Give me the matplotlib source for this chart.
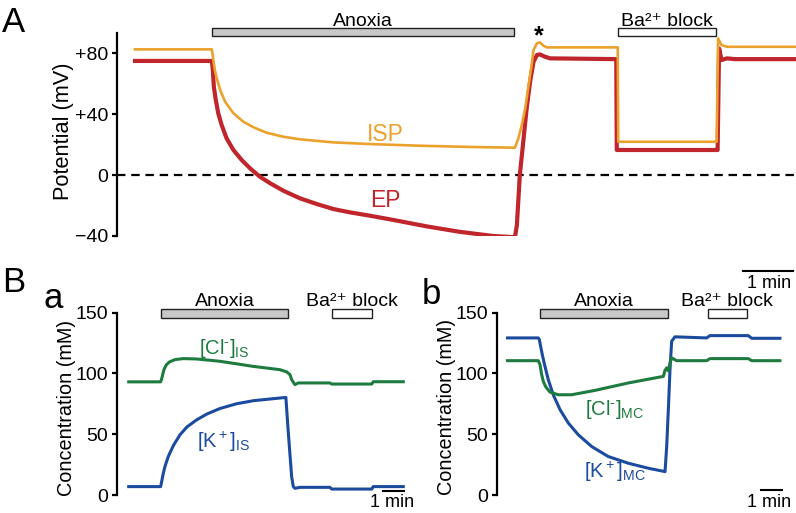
import matplotlib
matplotlib.use('Agg')
import matplotlib.pyplot as plt
from matplotlib.patches import Rectangle

plt.rcParams['font.family'] = ['Liberation Sans', 'DejaVu Sans']
plt.rcParams['mathtext.fontset'] = 'custom'
plt.rcParams['mathtext.rm'] = 'Liberation Sans'
plt.rcParams['mathtext.it'] = 'Liberation Sans:italic'
plt.rcParams['mathtext.bf'] = 'Liberation Sans:bold'

# ---------------- data (time in min) ----------------
# Panel A: potentials (mV)
isp_t = [0.00, 1.57, 1.60, 1.63, 1.67, 1.74, 1.84, 2.01, 2.21, 2.42, 2.69, 3.03, 3.37, 4.05, 4.80,
         5.82, 6.84, 7.76, 7.83, 7.90, 7.97, 8.03, 8.10, 8.14, 8.21, 8.27, 8.34, 8.41, 9.86, 9.87,
         11.88, 11.91, 11.98, 12.09, 13.50]
isp_v = [82.4, 82.4, 75.4, 68.9, 63.4, 55.7, 48.1, 40.5, 35.0, 31.3, 27.7, 25.1, 23.4, 21.4, 20.3,
         19.2, 18.4, 17.9, 24.0, 32.8, 43.7, 56.9, 72.1, 82.0, 86.4, 87.0, 84.8, 83.7, 83.7, 21.8,
         21.8, 89.6, 85.2, 84.1, 84.1]

ep_t = [0.00, 1.57, 1.59, 1.61, 1.65, 1.70, 1.77, 1.87, 2.01, 2.18, 2.35, 2.55, 2.76, 3.03, 3.37,
        3.71, 4.05, 4.39, 4.80, 5.28, 5.96, 6.64, 7.32, 7.76, 7.80, 7.86, 7.93, 8.00, 8.07, 8.14,
        8.21, 8.27, 8.37, 8.48, 9.83, 9.84, 11.90, 11.93, 11.98, 12.09, 12.25, 13.50]
ep_v = [74.8, 74.8, 68.9, 57.9, 49.2, 40.5, 32.8, 24.1, 16.4, 9.8, 4.4, -1.1, -5.4, -10.3, -15.3,
        -19.0, -22.3, -24.5, -26.7, -29.5, -33.7, -37.3, -40.0, -40.8, -32.8, 0.0, 21.8, 43.7, 61.2, 74.3,
        78.7, 79.1, 77.6, 76.5, 76.0, 16.4, 16.4, 83.0, 75.4, 76.5, 76.0, 76.0]

# Panel Ba: intrastrial space concentrations (mM)
cl_is_t = [0.00, 1.55, 1.60, 1.65, 1.71, 1.81, 1.97, 2.25, 2.65, 3.30, 4.43, 6.05, 7.34, 7.67, 7.83,
           7.91, 8.07, 8.23, 9.77, 9.85, 11.80, 11.87, 13.33]
cl_is_v = [93.0, 93.0, 95.4, 98.9, 103.0, 106.6, 109.3, 111.3, 112.1, 111.8, 109.9, 105.7, 103.0, 101.2, 98.9,
           94.8, 90.7, 92.1, 92.1, 91.2, 91.2, 93.1, 93.1]
k_is_t = [0.00, 1.55, 1.60, 1.68, 1.76, 1.92, 2.17, 2.49, 2.82, 3.30, 3.79, 4.43, 5.24, 6.05, 6.86,
          7.63, 7.75, 7.91, 7.99, 8.07, 8.32, 9.77, 9.85, 11.80, 11.87, 13.33]
k_is_v = [6.9, 6.9, 11.0, 17.9, 23.4, 31.6, 40.7, 49.5, 55.8, 61.8, 66.5, 71.1, 75.0, 77.5, 78.9,
          80.2, 50.8, 15.1, 6.9, 5.5, 6.3, 6.3, 4.9, 4.9, 6.9, 6.9]

# Panel Bb: marginal cell concentrations (mM)
k_mc_t = [0.00, 1.49, 1.54, 1.60, 1.68, 1.81, 1.97, 2.21, 2.54, 2.94, 3.42, 4.07, 4.87, 5.84, 6.80,
          7.53, 7.61, 7.69, 7.77, 7.85, 7.93, 8.09, 9.62, 9.78, 11.63, 11.80, 13.16]
k_mc_v = [129.1, 129.1, 127.7, 122.2, 115.4, 105.7, 94.8, 82.4, 70.1, 59.1, 49.5, 39.8, 31.6, 26.1, 22.0,
          19.5, 19.2, 39.8, 70.0, 103.0, 126.4, 130.0, 129.1, 131.0, 131.0, 128.8, 128.8]
cl_mc_t = [0.00, 1.49, 1.57, 1.65, 1.73, 1.85, 2.05, 2.45, 3.10, 4.23, 5.84, 7.53, 7.61, 7.69, 7.77,
           7.85, 7.93, 8.17, 9.62, 9.78, 11.63, 11.80, 13.16]
cl_mc_v = [110.4, 110.4, 107.1, 99.0, 93.4, 88.8, 84.6, 82.4, 82.4, 86.0, 92.1, 97.5, 102.5, 104.5, 102.0,
           108.5, 112.7, 110.4, 110.4, 112.1, 112.1, 110.4, 110.4]

# event periods (start, end) in min
a_anoxia = [1.57, 7.74]
a_barium = [9.87, 11.86]
ba_anoxia = [1.57, 7.75]
ba_barium = [9.88, 11.80]
bb_anoxia = [1.57, 7.74]
bb_barium = [9.70, 11.58]

a_ticks = [-40, 0, 40, 80]
a_ticklabels = ['\u221240', '0', '+40', '+80']
b_ticks = [0, 50, 100, 150]
b_ticklabels = ['0', '50', '100', '150']

# ---------------- styling ----------------
C_ISP = '#EBA22C'
C_EP = '#C1252C'
C_GREEN = '#1E7B40'
C_BLUE = '#1B4B9E'
C_GRAY = '#C8C8C8'
FS_TICK = 14
FS_EVT = 14

W, H = 796, 513
fig = plt.figure(figsize=(W / 100, H / 100), dpi=100)


def px_axes(left, right, top, bottom):
    return fig.add_axes([left / W, 1 - bottom / H, (right - left) / W, (bottom - top) / H])


def style(ax, ticks, labels):
    for s in ['top', 'right', 'bottom']:
        ax.spines[s].set_visible(False)
    ax.spines['left'].set_linewidth(1.6)
    ax.set_xticks([])
    ax.set_yticks(ticks)
    ax.set_yticklabels(labels)
    ax.tick_params(axis='y', direction='out', length=3.5, width=1.6, pad=3.0, labelsize=FS_TICK)
    ax.patch.set_alpha(0)


def bar(ax, span, y0, y1, fc):
    ax.add_patch(Rectangle((span[0], y0), span[1] - span[0], y1 - y0, facecolor=fc,
                           edgecolor='#222222', lw=1.0, clip_on=False, zorder=5))


# ---------- Panel A ----------
axA = px_axes(117.3, 796, 33.2, 236)
pxmA, t0A = 48.96, 135
axA.set_xlim((117.3 - t0A) / pxmA, (796 - t0A) / pxmA)
axA.set_ylim(-40, 93)
style(axA, a_ticks, a_ticklabels)
axA.axhline(0, color='black', lw=1.6, linestyle=(0, (3.8, 2.6)), zorder=1)
axA.plot(isp_t, isp_v, color=C_ISP, lw=1.9, solid_joinstyle='round', zorder=3)
axA.plot(ep_t, ep_v, color=C_EP, lw=3.0, solid_joinstyle='round', zorder=2)
bar(axA, a_anoxia, 91.1, 96.4, C_GRAY)
bar(axA, a_barium, 91.1, 96.4, 'white')
axA.text(sum(a_anoxia) / 2, 98.0, 'Anoxia', ha='center', va='baseline', fontsize=FS_EVT)
axA.text(sum(a_barium) / 2, 98.0, 'Ba\u00b2\u207a block', ha='center', va='baseline', fontsize=FS_EVT)
axA.text(8.24, 91.0, '*', ha='center', va='center', fontsize=18, fontweight='bold')
axA.text(5.11, 22.0, 'ISP', color=C_ISP, ha='center', va='baseline', fontsize=16.5)
axA.text(5.12, -21.0, 'EP', color=C_EP, ha='center', va='baseline', fontsize=16.5)
# 1 min scale bar for panel A
axA.plot([12.42, 13.44], [-63, -63], color='black', lw=1.5, clip_on=False)
axA.text(12.95, -74.0, '1 min', ha='center', va='baseline', fontsize=13)

fig.text(64 / W, 1 - 131 / H, 'Potential (mV)', rotation=90, ha='center', va='center', fontsize=15.7)

# ---------- Panel Ba ----------
axBa = px_axes(117.3, 410, 312.5, 495)
pxmB1, t0B1 = 20.6, 128.7
axBa.set_xlim((117.3 - t0B1) / pxmB1, (410 - t0B1) / pxmB1)
axBa.set_ylim(0, 150)
style(axBa, b_ticks, b_ticklabels)
axBa.plot(cl_is_t, cl_is_v, color=C_GREEN, lw=2.2, solid_joinstyle='round')
axBa.plot(k_is_t, k_is_v, color=C_BLUE, lw=2.2, solid_joinstyle='round')
bar(axBa, ba_anoxia, 145.5, 152.7, C_GRAY)
bar(axBa, ba_barium, 145.5, 152.7, 'white')
axBa.text(sum(ba_anoxia) / 2, 155.0, 'Anoxia', ha='center', va='baseline', fontsize=FS_EVT)
axBa.text(10.84, 155.0, 'Ba\u00b2\u207a block', ha='center', va='baseline', fontsize=FS_EVT)
axBa.text(4.63, 116.2, '[Cl$^{\\rm \u2010}$]$_{\\rm IS}$', color=C_GREEN, ha='center', va='baseline', fontsize=14.5)
axBa.text(4.63, 38.5, r'[K$^{\rm +}$]$_{\rm IS}$', color=C_BLUE, ha='center', va='baseline', fontsize=14.5)
axBa.plot([12.36, 13.36], [3.3, 3.3], color='black', lw=1.5, clip_on=False)
axBa.text(12.79, -9.9, '1 min', ha='center', va='baseline', fontsize=13)

fig.text(66 / W, 1 - 408 / H, 'Concentration (mM)', rotation=90, ha='center', va='center', fontsize=14.3)

# ---------- Panel Bb ----------
axBb = px_axes(496.7, 790, 312.5, 495)
pxmB2, t0B2 = 20.7, 507.5
axBb.set_xlim((496.7 - t0B2) / pxmB2, (790 - t0B2) / pxmB2)
axBb.set_ylim(0, 150)
style(axBb, b_ticks, b_ticklabels)
axBb.plot(k_mc_t, k_mc_v, color=C_BLUE, lw=2.2, solid_joinstyle='round')
axBb.plot(cl_mc_t, cl_mc_v, color=C_GREEN, lw=2.2, solid_joinstyle='round')
bar(axBb, bb_anoxia, 145.5, 152.7, C_GRAY)
bar(axBb, bb_barium, 145.5, 152.7, 'white')
axBb.text(sum(bb_anoxia) / 2, 155.0, 'Anoxia', ha='center', va='baseline', fontsize=FS_EVT)
axBb.text(10.61, 155.0, 'Ba\u00b2\u207a block', ha='center', va='baseline', fontsize=FS_EVT)
axBb.text(5.19, 65.9, '[Cl$^{\\rm \u2010}$]$_{\\rm MC}$', color=C_GREEN, ha='center', va='baseline', fontsize=14.5)
axBb.text(5.19, 13.7, r'[K$^{\rm +}$]$_{\rm MC}$', color=C_BLUE, ha='center', va='baseline', fontsize=14.5)
axBb.plot([12.25, 13.25], [4.0, 4.0], color='black', lw=1.5, clip_on=False)
axBb.text(12.63, -9.9, '1 min', ha='center', va='baseline', fontsize=13)

fig.text(446 / W, 1 - 407 / H, 'Concentration (mM)', rotation=90, ha='center', va='center', fontsize=14.3)

# panel letters
fig.text(14 / W, 1 - 22 / H, 'A', ha='center', va='center', fontsize=25)
fig.text(14 / W, 1 - 283 / H, 'B', ha='center', va='center', fontsize=25)
fig.text(53 / W, 1 - 308 / H, 'a', ha='center', va='baseline', fontsize=25)
fig.text(431 / W, 1 - 304 / H, 'b', ha='center', va='baseline', fontsize=25)

fig.savefig('out.png', dpi=100)
